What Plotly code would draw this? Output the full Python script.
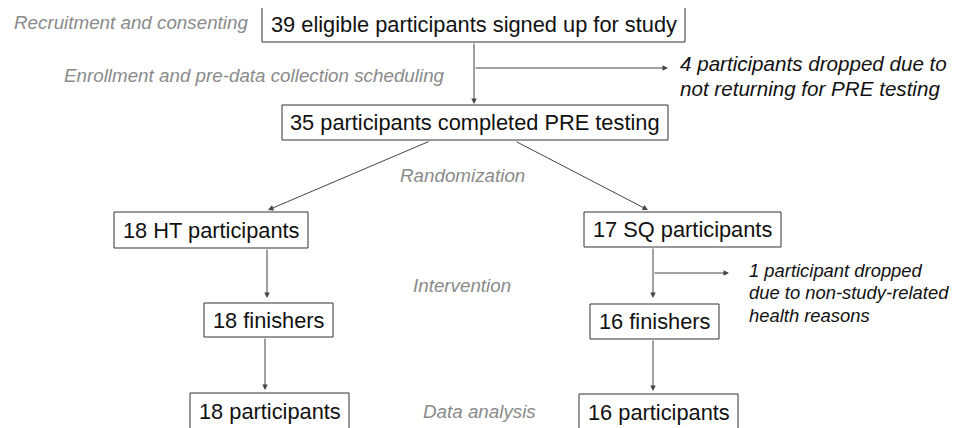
import plotly.graph_objects as go

# ---- content ----
box_labels = [
    "39 eligible participants signed up for study",
    "35 participants completed PRE testing",
    "18 HT participants",
    "17 SQ participants",
    "18 finishers",
    "16 finishers",
    "18 participants",
    "16 participants",
]
stage_labels = [
    "Recruitment and consenting",
    "Enrollment and pre-data collection scheduling",
    "Randomization",
    "Intervention",
    "Data analysis",
]
dropout_lines = [
    ["4 participants dropped due to", "not returning for PRE testing"],
    ["1 participant dropped", "due to non-study-related", "health reasons"],
]

# ---- layout geometry (pixels) ----
box_pos = [  # x0, y0, x1, y1
    (262, 6, 685, 42),
    (282, 105, 668, 140),
    (114, 212, 308, 248),
    (584, 212, 781, 247),
    (204, 303, 333, 337),
    (590, 304, 719, 339),
    (190, 393, 349, 440),
    (579, 394, 738, 440),
]
stage_pos = [  # x, y, xanchor
    (250, 22, "right"),
    (447, 75, "right"),
    (462, 175, "center"),
    (462, 285, "center"),
    (479, 411, "center"),
]
dropout_pos = [  # x, first-line y, line step, size
    (678, 63, 25, 20.6),
    (747, 270, 22.5, 18.4),
]
arrows = [  # x_from, y_from, x_to, y_to
    (474, 42, 474, 104),
    (474, 68, 668, 68),
    (430, 141, 268, 210),
    (515, 141, 648, 210),
    (267, 248, 267, 298),
    (653, 247, 653, 298),
    (653, 273, 729, 273),
    (265, 337, 265, 390),
    (653, 339, 653, 391),
]

W, H = 959, 428
OFF = 8  # page body margin offset
fig = go.Figure()
fig.add_trace(go.Scatter(x=[0, W], y=[0, H], mode="markers",
                         marker=dict(opacity=0), hoverinfo="skip", showlegend=False))

FONT = "Liberation Sans, Arial"
shapes = []
annotations = []
for label, (x0, y0, x1, y1) in zip(box_labels, box_pos):
    shapes.append(dict(type="rect", x0=x0, y0=y0, x1=x1, y1=y1, xref="x", yref="y",
                       line=dict(color="#333333", width=1), fillcolor="white", layer="below"))
    yc = (y0 + min(y1, y0 + 36)) / 2
    annotations.append(dict(x=(x0 + x1) / 2, y=yc, text=label, showarrow=False,
                            xref="x", yref="y", xanchor="center", yanchor="middle",
                            font=dict(size=21.8, color="#111111", family=FONT)))

for label, (x, y, xa) in zip(stage_labels, stage_pos):
    annotations.append(dict(x=x, y=y, text="<i>" + label + "</i>", showarrow=False,
                            xref="x", yref="y", xanchor=xa, yanchor="middle",
                            font=dict(size=18.8, color="#8a8a8a", family=FONT)))

for lines, (x, y, step, s) in zip(dropout_lines, dropout_pos):
    for i, line in enumerate(lines):
        annotations.append(dict(x=x, y=y + i * step, text="<i>" + line + "</i>", showarrow=False,
                                xref="x", yref="y", xanchor="left", yanchor="middle", align="left",
                                font=dict(size=s, color="#111111", family=FONT)))

for (xf, yf, xt, yt) in arrows:
    annotations.append(dict(x=xt, y=yt, ax=xf, ay=yf, xref="x", yref="y", axref="x", ayref="y",
                            text="", showarrow=True, arrowhead=2, arrowsize=1.1, arrowwidth=1,
                            arrowcolor="#444444", standoff=0, startstandoff=0))

fig.update_layout(
    width=W, height=H,
    margin=dict(l=0, r=0, t=0, b=0),
    paper_bgcolor="white", plot_bgcolor="white",
    xaxis=dict(range=[OFF, W + OFF], visible=False, fixedrange=True),
    yaxis=dict(range=[H + OFF, OFF], visible=False, fixedrange=True),
    shapes=shapes, annotations=annotations, showlegend=False,
)
fig.write_html("out.html", config={"displayModeBar": False})
